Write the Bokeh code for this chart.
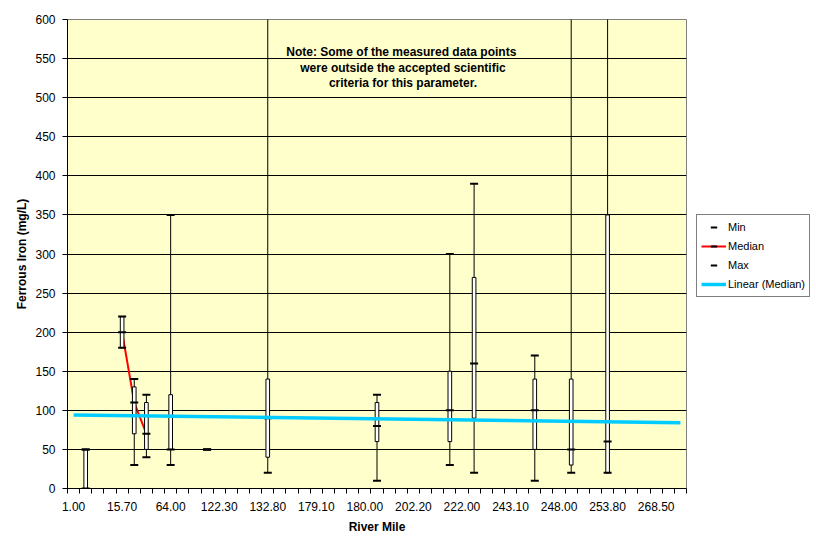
import numpy as np
from bokeh.plotting import figure
from bokeh.models import FixedTicker, Legend, LegendItem, Label
from bokeh.embed import file_html
from bokeh.resources import INLINE

# ---------------- data ----------------
n_categories = 51
label_every = 4
tick_labels = ["1.00", "15.70", "64.00", "122.30", "132.80", "179.10", "180.00",
               "202.20", "222.00", "243.10", "248.00", "253.80", "268.50"]

# category index (0-based position on the River Mile axis) of each sampled site
cat_idx = [1, 4, 5, 6, 8, 11, 16, 25, 31, 33, 38, 41, 44]
min_vals = [0, 180, 30, 40, 30, 50, 20, 10, 30, 20, 10, 20, 20]
median_vals = [50, 200, 110, 70, 50, 50, 90, 80, 100, 160, 100, 50, 60]
max_vals = [50, 220, 140, 120, 350, 50, 700, 120, 300, 390, 170, 700, 700]
box_low = [0, 180, 70, 50, 50, 50, 40, 60, 60, 90, 50, 30, 20]
box_high = [50, 220, 130, 110, 120, 50, 140, 110, 150, 270, 140, 140, 350]

note_lines = ["Note:  Some of the measured data points",
              "were outside the accepted scientific",
              "criteria for this parameter."]

FONT = "Liberation Sans"

p = figure(frame_width=619, frame_height=469, x_range=(-0.5, n_categories - 0.5), y_range=(0, 600),
           output_backend="svg", toolbar_location=None,
           min_border_left=67, min_border_right=0, min_border_top=19, min_border_bottom=61,
           background_fill_color="#FFFFCC", border_fill_color="white",
           outline_line_color="#808080", outline_line_width=1)

# ---- axes ----
xa = p.xaxis[0]
major = [i * label_every for i in range(len(tick_labels))]
xa.ticker = FixedTicker(ticks=major, minor_ticks=[k - 0.5 for k in range(n_categories + 1)])
xa.major_label_overrides = {m: lab for m, lab in zip(major, tick_labels)}
xa.major_tick_out = 0
xa.major_tick_in = 0
xa.minor_tick_out = 5
xa.minor_tick_in = 0
xa.minor_tick_line_color = "black"
xa.axis_line_color = "black"
xa.major_label_text_font = FONT
xa.major_label_text_font_size = "12px"
xa.major_label_text_color = "black"
xa.major_label_standoff = 8
xa.axis_label = "River Mile"
xa.axis_label_text_font = FONT
xa.axis_label_text_font_size = "12px"
xa.axis_label_text_font_style = "bold"
xa.axis_label_text_color = "black"
xa.axis_label_standoff = 6

ya = p.yaxis[0]
ya.ticker = FixedTicker(ticks=list(range(0, 601, 50)))
ya.major_tick_out = 5
ya.major_tick_in = 0
ya.minor_tick_out = 0
ya.minor_tick_in = 0
ya.major_tick_line_color = "black"
ya.axis_line_color = "black"
ya.major_label_text_font = FONT
ya.major_label_text_font_size = "12px"
ya.major_label_text_color = "black"
ya.major_label_standoff = 7
ya.axis_label = "Ferrous Iron (mg/L)"
ya.axis_label_text_font = FONT
ya.axis_label_text_font_size = "12px"
ya.axis_label_text_font_style = "bold"
ya.axis_label_text_color = "black"
ya.axis_label_standoff = 3

p.xgrid.visible = False
p.ygrid.ticker = FixedTicker(ticks=list(range(50, 600, 50)))
p.ygrid.grid_line_color = "black"
p.ygrid.grid_line_width = 1

# ---- glyphs ----
med_full = np.full(n_categories, np.nan)
med_full[cat_idx] = median_vals
median_line = p.line(np.arange(n_categories), med_full, line_color="#FF0000", line_width=2)

p.segment(x0=cat_idx, y0=min_vals, x1=cat_idx, y1=max_vals, line_color="black", line_width=1)
p.vbar(x=cat_idx, bottom=box_low, top=box_high, width=0.3,
       fill_color="white", line_color="black", line_width=1)

min_r = p.scatter(cat_idx, min_vals, marker="dash", size=8, line_width=2, line_color="black")
med_r = p.scatter(cat_idx, median_vals, marker="dash", size=8, line_width=2, line_color="black")
max_r = p.scatter(cat_idx, max_vals, marker="dash", size=8, line_width=2, line_color="black")

coef = np.polyfit(cat_idx, median_vals, 1)
trend_x = np.array([0, n_categories - 1])
trend_r = p.line(trend_x, np.polyval(coef, trend_x), line_color="#00CCFF", line_width=3.5)

# ---- note ----
note_y = [558, 538.5, 519]
for txt, yy in zip(note_lines, note_y):
    p.add_layout(Label(x=27.14, y=yy, text=txt, text_align="center", text_baseline="middle",
                       text_font=FONT, text_font_size="12px", text_font_style="bold",
                       text_color="black"))

# ---- legend (side panel to the right of the plot area) ----
legend = Legend(items=[
    LegendItem(label="Min", renderers=[min_r]),
    LegendItem(label="Median", renderers=[median_line, med_r]),
    LegendItem(label="Max", renderers=[max_r]),
    LegendItem(label="Linear (Median)", renderers=[trend_r]),
], location=(10, 191), border_line_color="black", border_line_width=1,
    background_fill_color="white", background_fill_alpha=1,
    label_text_font=FONT, label_text_font_size="11px", label_text_color="black",
    glyph_width=25, glyph_height=16, spacing=3, padding=4, label_standoff=2, margin=10)
p.add_layout(legend, "right")

open("out.html", "w").write(file_html(p, INLINE))
